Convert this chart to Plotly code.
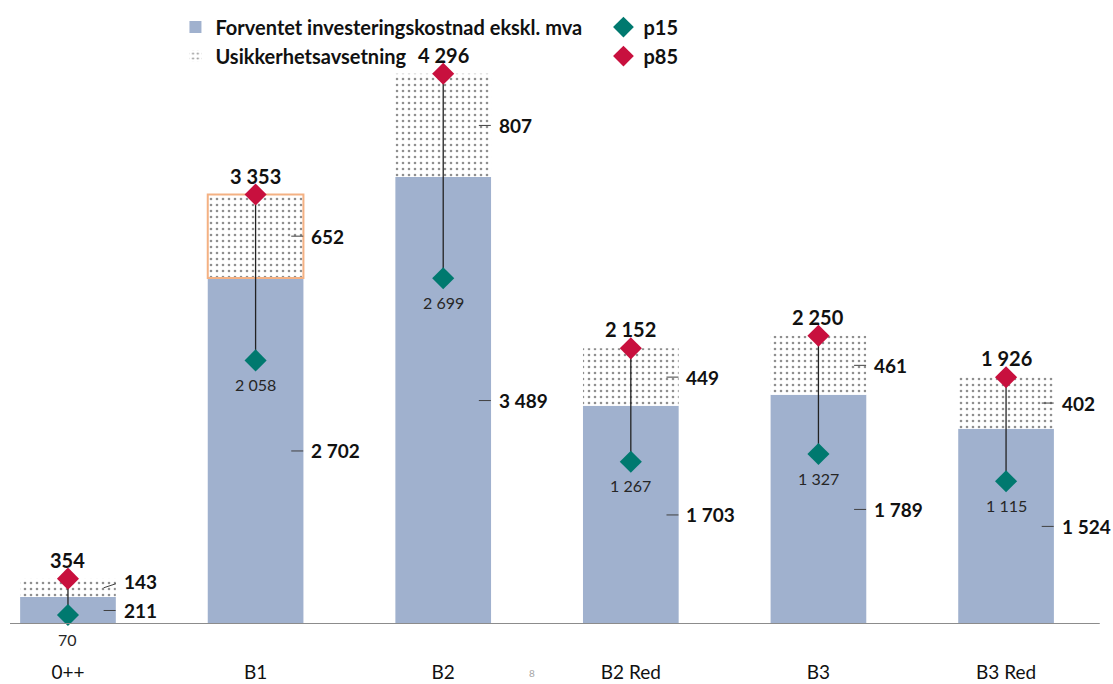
import plotly.graph_objects as go

categories = ["0++", "B1", "B2", "B2 Red", "B3", "B3 Red"]
base_cost = [211, 2702, 3489, 1703, 1789, 1524]
uncertainty = [143, 652, 807, 449, 461, 402]
p15 = [70, 2058, 2699, 1267, 1327, 1115]
p85 = [354, 3353, 4296, 2152, 2250, 1926]

BLUE = "#A0B1CE"
TEAL = "#00796F"
RED = "#C8103E"
FONT = "Lato"


def fmt(v):
    return f"{v:,}".replace(",", " ")


x = list(range(len(categories)))
fig = go.Figure()

fig.add_trace(go.Bar(
    x=x, y=base_cost, name="Forventet investeringskostnad ekskl. mva",
    marker=dict(color=BLUE, line=dict(width=0)), width=0.51,
    legendrank=1,
))
fig.add_trace(go.Bar(
    x=x, y=uncertainty, base=base_cost, name="Usikkerhetsavsetning",
    marker=dict(
        color="white",
        pattern=dict(shape=".", fgcolor="#202020", bgcolor="white", size=6, solidity=0.15, fillmode="overlay"),
        line=dict(color=["rgba(0,0,0,0)", "#F4B183", "rgba(0,0,0,0)", "rgba(0,0,0,0)", "rgba(0,0,0,0)", "rgba(0,0,0,0)"], width=2),
    ),
    width=0.51, legendrank=3,
))

# connecting lines p15 -> p85
for i in x:
    fig.add_trace(go.Scatter(
        x=[i, i], y=[p15[i], p85[i]], mode="lines",
        line=dict(color="#222222", width=1.3), showlegend=False, hoverinfo="skip",
    ))

fig.add_trace(go.Scatter(
    x=x, y=p15, mode="markers", name="p15",
    marker=dict(symbol="diamond", size=17, color=TEAL),
    cliponaxis=False, legendrank=2,
))
fig.add_trace(go.Scatter(
    x=x, y=p85, mode="markers", name="p85",
    marker=dict(symbol="diamond", size=17, color=RED),
    cliponaxis=False, legendrank=4,
))

for i in x:
    fig.add_annotation(
        x=i, y=p15[i], xref="x", yref="y", text=fmt(p15[i]), showarrow=False,
        yshift=-24, font=dict(family=FONT, size=16, color="#262626"),
    )
    fig.add_annotation(
        x=i, y=p85[i], xref="x", yref="y", text=f"<b>{fmt(p85[i])}</b>", showarrow=False,
        yshift=19, font=dict(family=FONT, size=20, color="#111111"),
    )

# segment value labels with short leader lines
for i in x:
    mid_base = base_cost[i] / 2
    mid_unc = base_cost[i] + uncertainty[i] / 2
    for val, ymid, ay in ((base_cost[i], mid_base, 0), (uncertainty[i], mid_unc, -6 if i == 0 else 0)):
        fig.add_annotation(
            x=i + 0.19, y=ymid, xref="x", yref="y",
            text=f"<b>{fmt(val)}</b>", showarrow=True, arrowhead=0,
            arrowwidth=1, arrowcolor="#404040",
            ax=18, ay=ay, xanchor="left", yanchor="middle", startstandoff=6,
            font=dict(family=FONT, size=19, color="#111111"),
        )

fig.add_annotation(
    x=0.473, y=-0.035, xref="paper", yref="paper", yshift=-36, text="8", showarrow=False,
    font=dict(family=FONT, size=10, color="#A6A6A6"),
)

fig.update_layout(
    width=1113, height=684,
    barmode="overlay",
    plot_bgcolor="white", paper_bgcolor="white",
    margin=dict(l=10, r=0, t=22, b=60, autoexpand=False),
    font=dict(family=FONT, size=16, color="#111111"),
    showlegend=True,
    legend=dict(
        orientation="h", x=0.15, y=1.024, xanchor="left", yanchor="top",
        entrywidth=383, entrywidthmode="pixels",
        font=dict(family=FONT, size=20, color="#111111", weight="bold"),
        traceorder="normal", bgcolor="rgba(0,0,0,0)", tracegroupgap=0,
    ),
    xaxis=dict(
        range=[-0.309, 5.57], tickmode="array", tickvals=x, ticktext=categories,
        showgrid=False, zeroline=False, showline=False, ticks="",
        tickfont=dict(family=FONT, size=19, color="#111111"), ticklabelstandoff=35,
    ),
    yaxis=dict(range=[0, 4700], visible=False, showgrid=False, zeroline=False),
    shapes=[dict(type="line", xref="paper", yref="y", x0=0, x1=0.988, y0=0, y1=0,
                 line=dict(color="#8C8C8C", width=2))],
)

fig.write_html("out.html")
